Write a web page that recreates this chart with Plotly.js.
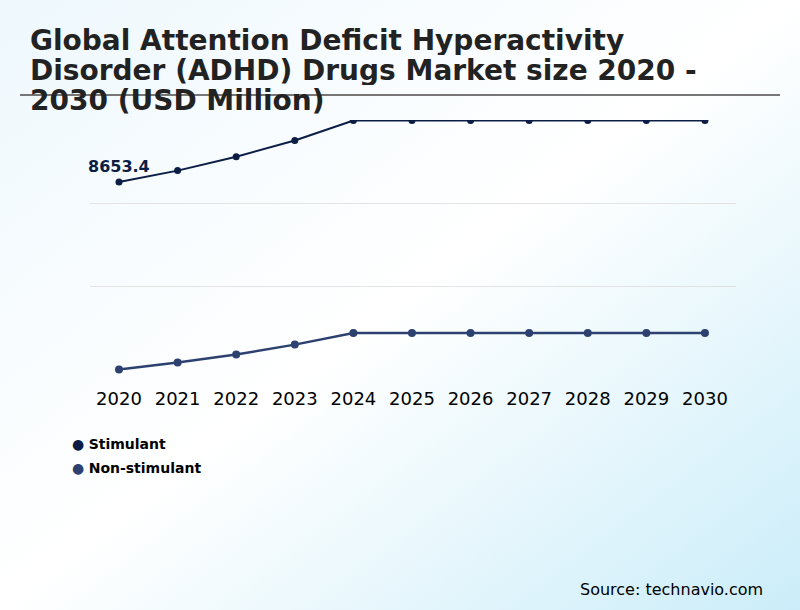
<!DOCTYPE html>
<html>
<head>
<meta charset="utf-8">
<script src="https://cdn.plot.ly/plotly-3.0.1.min.js"></script>
<style>
  html, body { margin: 0; padding: 0; }
  body {
    width: 800px; height: 610px; overflow: hidden;
    background: linear-gradient(to bottom right, #eef8fd 0%, #ffffff 50%, #cbedf9 100%);
  }
  #chart { width: 800px; height: 610px; }
</style>
</head>
<body>
<div id="chart"></div>
<script>
const years = [2020, 2021, 2022, 2023, 2024, 2025, 2026, 2027, 2028, 2029, 2030];
const stimulant = [8653.4, 9032, 9497, 10038, 10703, 10703, 10703, 10703, 10703, 10703, 10703];
const nonStimulant = [2400, 2632, 2898, 3230, 3620, 3620, 3620, 3620, 3620, 3620, 3620];
const seriesNames = ['Stimulant', 'Non-stimulant'];
const seriesColors = ['#0b1d44', '#2c4170'];
const titleLines = [
  'Global Attention Deficit Hyperactivity',
  'Disorder (ADHD) Drugs Market size 2020 -',
  '2030 (USD Million)'
];
const sourceText = 'Source: technavio.com';

const W = 800, H = 610;
const M = { l: 90, r: 64, t: 120, b: 240 };
const plotW = W - M.l - M.r, plotH = H - M.t - M.b;
const px = x => (x - M.l) / plotW;          // pixel x -> paper x
const py = y => (H - M.b - y) / plotH;      // pixel y -> paper y

const yMin = Math.min(...nonStimulant);
const yMax = Math.max(...stimulant);
const gridVals = [0, 1, 2, 3].map(i => yMin + (yMax - yMin) * i / 3);
const pad = (yMax - yMin) * 0.002;

const traces = [
  {
    x: years, y: stimulant, type: 'scatter', mode: 'lines+markers',
    line: { color: seriesColors[0], width: 2 },
    marker: { color: seriesColors[0], size: 7 },
    showlegend: false, hoverinfo: 'skip'
  },
  {
    x: years, y: nonStimulant, type: 'scatter', mode: 'lines+markers',
    line: { color: seriesColors[1], width: 2.5 },
    marker: { color: seriesColors[1], size: 8 },
    cliponaxis: false,
    showlegend: false, hoverinfo: 'skip'
  }
];

const annotations = [];
const titleBaselines = [50, 80, 110];
titleLines.forEach((t, i) => {
  annotations.push({
    xref: 'paper', yref: 'paper', x: px(28), y: py(titleBaselines[i] - 10),
    xanchor: 'left', yanchor: 'middle', showarrow: false,
    height: 30, valign: 'middle',
    text: '<b>' + t + '</b>',
    font: { family: 'DejaVu Sans', size: 28, color: '#222222' }
  });
});
annotations.push({
  x: years[0], y: stimulant[0], xref: 'x', yref: 'y',
  text: '<b>' + stimulant[0].toFixed(1) + '</b>', showarrow: false,
  yshift: 15, font: { size: 16, color: '#0b1d44' }
});
annotations.push({
  x: px(765), y: py(589), xref: 'paper', yref: 'paper', xanchor: 'right', yanchor: 'middle',
  text: sourceText, showarrow: false, font: { size: 16, color: '#000' }
});
const legendY = [444, 468];
seriesNames.forEach((n, i) => {
  annotations.push({
    x: px(70), y: py(legendY[i]), xref: 'paper', yref: 'paper', xanchor: 'left', yanchor: 'middle',
    showarrow: false,
    text: '<span style="color:' + seriesColors[i] + '">●</span> <b>' + n + '</b>',
    font: { size: 14, color: '#000' }
  });
});

const layout = {
  width: W, height: H,
  paper_bgcolor: 'rgba(0,0,0,0)',
  plot_bgcolor: 'rgba(0,0,0,0)',
  margin: M,
  font: { family: 'DejaVu Sans', color: '#000' },
  xaxis: {
    range: [2019.505, 2030.53],
    tickvals: years, ticktext: years.map(String),
    showgrid: false, zeroline: false, showline: false,
    ticks: '', tickfont: { size: 18, color: '#000' }, ticklabelstandoff: 16
  },
  yaxis: {
    range: [yMin - pad, yMax + pad],
    tickvals: gridVals, showticklabels: false,
    showgrid: true, gridcolor: '#e3e3e3', gridwidth: 1,
    zeroline: false, showline: false, ticks: ''
  },
  showlegend: false,
  annotations: annotations,
  shapes: [
    {
      type: 'line', xref: 'paper', yref: 'paper',
      x0: px(20), x1: px(780), y0: py(95), y1: py(95),
      line: { color: '#777777', width: 2 }
    }
  ]
};

Plotly.newPlot('chart', traces, layout, { displayModeBar: false, staticPlot: true });
</script>
</body>
</html>
